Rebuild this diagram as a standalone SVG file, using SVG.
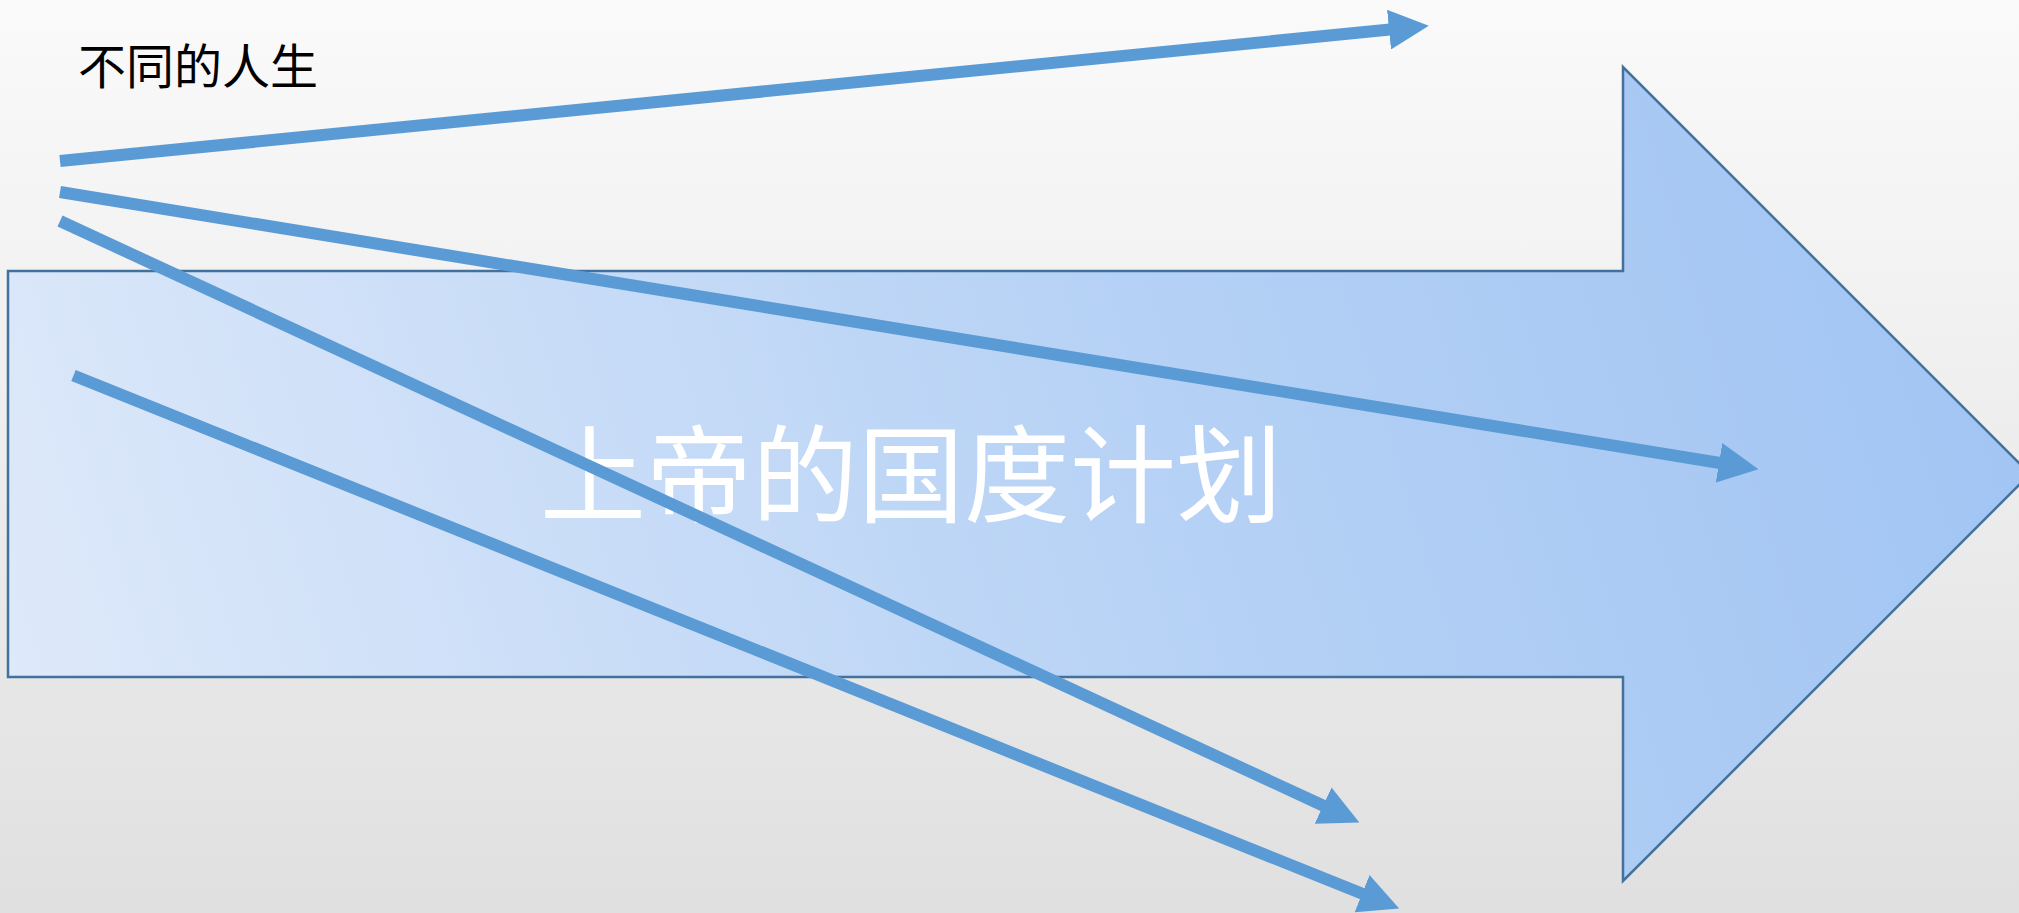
<svg xmlns="http://www.w3.org/2000/svg" width="2019" height="913" viewBox="0 0 2019 913">
  <defs>
    <linearGradient id="bg" x1="0" y1="0" x2="0" y2="1">
      <stop offset="0" stop-color="#FAFAFA"/>
      <stop offset="1" stop-color="#E0E0E0"/>
    </linearGradient>
    <linearGradient id="arrowFill" gradientUnits="userSpaceOnUse" x1="8" y1="677" x2="1900" y2="100">
      <stop offset="0" stop-color="#DEE9FA"/>
      <stop offset="0.6" stop-color="#B5D1F5"/>
      <stop offset="1" stop-color="#A2C5F3"/>
    </linearGradient>
    <marker id="head" viewBox="0 0 40 40" markerWidth="40" markerHeight="40" refX="1" refY="20" orient="auto" markerUnits="userSpaceOnUse">
      <path d="M0,0 L40,20 L0,40 Z" fill="#5B9BD5"/>
    </marker>
    <style>
      .conn { stroke: #5B9BD5; stroke-width: 12; fill: none; marker-end: url(#head); }
      .big { fill: url(#arrowFill); stroke: #41719C; stroke-width: 2.5; }
      .title { font-family: "Noto Sans CJK SC", "Noto Sans", sans-serif; }
    </style>
  </defs>
  <rect x="0" y="0" width="2019" height="913" fill="url(#bg)"/>

  <g id="label-different-lives">
    <text class="title" x="78" y="84" font-size="48" fill="#000000">不同的人生</text>
  </g>

  <g id="kingdom-arrow">
    <path class="big" d="M8,271 L1623,271 L1623,67 L2030,474 L1623,881 L1623,677 L8,677 Z"/>
    <text class="title" x="911" y="514" font-size="106" fill="#FFFFFF" text-anchor="middle">上帝的国度计划</text>
  </g>

  <g id="connectors">
    <line class="conn" x1="60" y1="161" x2="1390" y2="29.5"/>
    <line class="conn" x1="60" y1="192" x2="1720" y2="463"/>
    <line class="conn" x1="60" y1="221" x2="1324" y2="806"/>
    <line class="conn" x1="73.5" y1="375.5" x2="1363" y2="894"/>
  </g>
</svg>
